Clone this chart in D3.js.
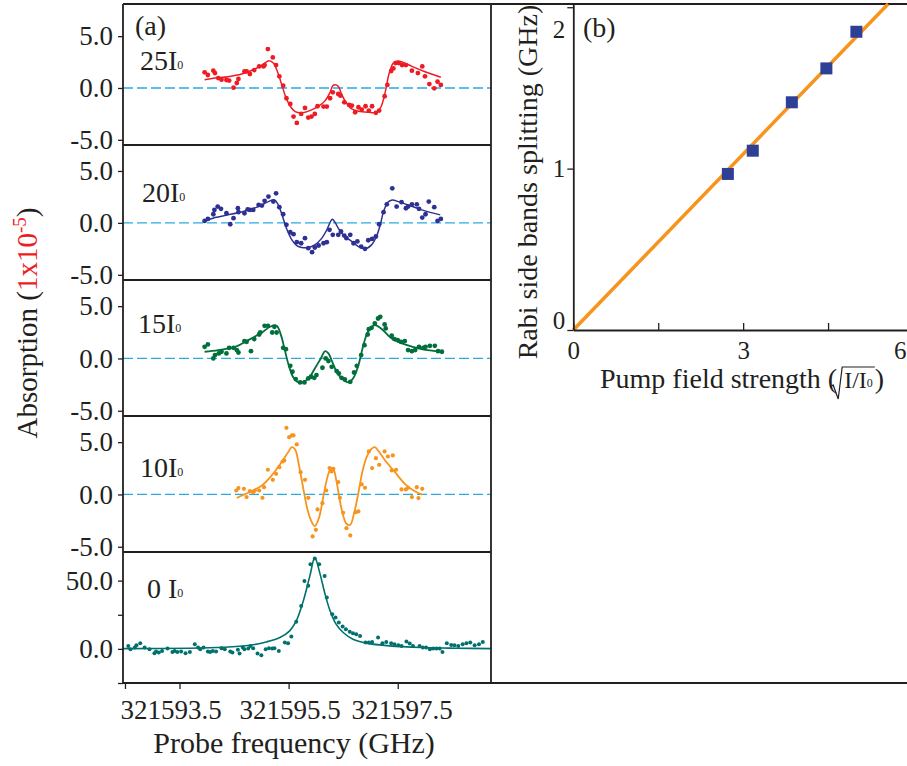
<!DOCTYPE html>
<html>
<head>
<meta charset="utf-8">
<script src="https://cdn.jsdelivr.net/npm/d3@7/dist/d3.min.js"></script>
<style>
  body { margin: 0; background: #fff; }
  svg { display: block; }
  text { font-family: "Liberation Serif", "Times New Roman", serif; fill: #231f20; }
</style>
</head>
<body>
<div id="wrapper"></div>
<script>
// probe frequency is stored as offset from 321590 GHz
const baseFreq = 321590;
const freqTicks = [2.5, 3.5, 5.5, 7.5];

// 25 I0
const freq25 = [3.96,4.02,4.12,4.15,4.21,4.27,4.36,4.41,4.49,4.55,4.58,4.69,4.73,4.79,4.87,4.96,5.04,5.06,5.12,5.21,5.27,5.33,5.40,5.46,5.53,5.59,5.65,5.73,5.80,5.86,5.92,5.98,6.03,6.14,6.20,6.26,6.31,6.41,6.45,6.52,6.61,6.66,6.72,6.78,6.84,6.91,6.97,7.03,7.10,7.16,7.26,7.31,7.38,7.42,7.46,7.52,7.58,7.65,7.76,7.87,7.95,8.00,8.08,8.17,8.23,8.29];
const abs25 = [1.51,1.25,1.67,1.44,0.96,0.80,0.77,0.71,0.03,0.48,0.87,1.60,1.60,1.35,1.73,2.08,2.08,2.21,3.75,2.95,2.21,1.12,0.22,-0.99,-1.54,-2.76,-3.37,-2.50,-1.92,-2.85,-2.76,-2.50,-1.76,-1.79,-1.79,-0.99,-0.42,-0.58,-0.74,-1.38,-1.63,-1.70,-2.34,-1.86,-2.08,-1.76,-2.18,-1.76,-2.40,-2.18,-0.80,0.29,1.63,1.89,2.40,2.40,2.21,2.21,1.67,1.44,2.08,1.12,0.38,-0.03,0.61,0.29];
const fitFreq25 = [3.96,4.15,4.39,4.64,4.88,5.04,5.14,5.22,5.30,5.37,5.45,5.53,5.62,5.74,5.89,6.05,6.17,6.26,6.31,6.35,6.41,6.47,6.55,6.64,6.78,6.96,7.11,7.19,7.27,7.34,7.42,7.50,7.60,7.76,8.00,8.29];
const fitAbs25 = [0.80,0.96,1.09,1.35,1.83,2.31,2.63,2.40,1.51,0.38,-0.90,-1.76,-2.28,-2.40,-2.18,-1.76,-1.22,-0.42,0.22,0.32,0.16,-0.58,-1.38,-1.96,-2.24,-2.34,-2.34,-1.86,-0.42,1.35,2.40,2.60,2.47,2.08,1.57,1.03];

// 20 I0
const freq20 = [3.96,4.02,4.12,4.14,4.20,4.26,4.36,4.43,4.49,4.57,4.58,4.69,4.75,4.79,4.85,4.95,5.01,5.06,5.13,5.22,5.27,5.33,5.40,5.46,5.53,5.59,5.65,5.73,5.80,5.86,5.93,5.98,6.05,6.14,6.20,6.25,6.31,6.41,6.46,6.52,6.56,6.63,6.69,6.76,6.83,6.90,6.96,7.03,7.10,7.16,7.24,7.30,7.40,7.48,7.57,7.65,7.69,7.76,7.85,7.89,7.95,8.01,8.07,8.17,8.23,8.29];
const abs20 = [0.19,0.38,0.83,1.25,1.57,1.35,0.93,-0.13,0.45,1.41,1.03,0.93,1.31,1.25,1.25,1.73,1.67,2.12,2.53,2.05,2.85,1.51,0.83,-0.19,-0.90,-1.09,-1.86,-1.96,-1.47,-2.44,-2.82,-2.37,-2.18,-1.96,-1.86,-0.67,-1.15,-1.15,-0.83,-1.22,-1.47,-1.15,-1.96,-1.79,-2.28,-2.50,-1.67,-1.54,-1.31,-0.13,1.03,1.79,3.33,1.57,1.99,1.41,1.57,1.79,1.79,1.35,0.51,0.83,2.05,1.51,0.19,0.38];
const fitFreq20 = [3.96,4.15,4.39,4.70,4.95,5.13,5.24,5.31,5.38,5.46,5.56,5.65,5.74,5.86,5.98,6.11,6.20,6.30,6.35,6.41,6.50,6.66,6.78,6.90,7.02,7.11,7.18,7.24,7.32,7.40,7.51,7.69,7.94,8.28];
const fitAbs20 = [0.13,0.51,0.77,1.15,1.57,2.05,2.21,1.73,0.77,-0.51,-1.63,-2.18,-2.37,-2.37,-2.12,-1.47,-0.67,0.35,0.06,-0.51,-1.15,-1.79,-2.28,-2.50,-2.12,-1.31,-0.19,1.09,1.99,2.21,2.05,1.73,1.25,0.77];

// 15 I0
const freq15 = [3.96,4.02,4.12,4.15,4.22,4.27,4.36,4.41,4.49,4.55,4.58,4.69,4.73,4.81,4.87,4.96,4.98,5.06,5.12,5.20,5.24,5.28,5.40,5.45,5.53,5.57,5.63,5.71,5.79,5.86,5.91,5.97,6.01,6.12,6.18,6.23,6.29,6.38,6.42,6.47,6.53,6.63,6.70,6.75,6.83,6.89,6.95,6.97,7.02,7.08,7.14,7.18,7.26,7.28,7.39,7.44,7.50,7.56,7.63,7.69,7.76,7.82,7.89,7.97,8.01,8.09,8.18,8.24,8.31];
const abs15 = [1.11,1.34,0.00,0.32,0.48,0.64,0.48,1.02,1.02,0.80,0.57,1.66,1.59,0.70,1.85,2.29,2.48,3.12,3.12,2.48,3.03,2.48,1.02,0.89,-0.70,-1.27,-1.97,-2.29,-2.29,-1.91,-1.75,-1.85,-1.59,-0.89,0.00,-0.25,-0.80,-1.21,-1.43,-1.85,-2.01,-2.23,-1.34,-0.70,0.32,1.27,2.29,2.80,2.93,3.34,3.82,3.98,3.25,2.87,2.17,1.85,1.75,1.59,1.66,0.80,0.70,0.80,1.11,1.02,1.11,1.21,1.21,0.70,0.64];
const fitFreq15 = [3.96,4.21,4.52,4.76,5.01,5.16,5.28,5.36,5.43,5.51,5.59,5.68,5.80,5.89,5.98,6.09,6.17,6.23,6.30,6.38,6.47,6.60,6.69,6.78,6.87,6.96,7.08,7.21,7.39,7.63,7.94,8.31];
const fitAbs15 = [0.64,0.80,1.11,1.75,2.48,3.03,3.12,2.23,0.80,-0.80,-1.85,-2.29,-2.17,-1.75,-0.96,0.00,0.70,0.48,-0.32,-1.27,-1.91,-2.29,-1.85,-0.64,1.27,2.61,3.18,2.80,1.91,1.34,0.89,0.64];

// 10 I0
const freq10 = [4.54,4.58,4.68,4.73,4.79,4.85,4.88,4.96,5.02,5.05,5.12,5.21,5.27,5.33,5.39,5.42,5.46,5.51,5.56,5.59,5.65,5.72,5.80,5.86,5.94,6.00,6.03,6.12,6.19,6.25,6.29,6.32,6.41,6.44,6.50,6.56,6.63,6.73,6.78,6.84,6.90,6.97,7.03,7.10,7.16,7.26,7.32,7.41,7.39,7.47,7.57,7.65,7.69,7.76,7.85,7.88,7.95];
const abs10 = [0.38,0.61,0.54,-0.25,0.32,0.22,0.38,0.38,-0.32,0.70,2.36,1.40,1.97,2.61,3.15,3.25,6.37,5.48,5.64,5.64,4.78,2.13,1.40,-0.32,-4.01,-3.38,-1.43,-0.83,0.38,2.52,2.20,2.45,1.18,-0.32,-1.75,-3.22,-3.92,-1.69,-1.62,0.96,0.64,4.11,2.52,3.47,2.83,4.11,3.63,3.73,2.29,2.36,0.48,0.48,0.64,-0.25,0.70,-0.35,0.54];
const fitFreq10 = [4.55,4.76,5.01,5.19,5.37,5.50,5.56,5.62,5.69,5.77,5.85,5.94,5.98,6.06,6.14,6.22,6.28,6.32,6.38,6.47,6.56,6.63,6.69,6.77,6.85,6.93,7.02,7.08,7.14,7.27,7.45,7.63,7.79,7.95];
const fitAbs10 = [-0.32,0.16,0.86,1.82,3.09,4.11,4.52,4.30,2.77,0.54,-1.53,-2.80,-3.03,-2.17,-0.10,1.82,2.52,2.45,1.18,-1.37,-2.80,-2.90,-2.01,-0.10,2.13,3.57,4.36,4.52,4.20,3.25,2.13,1.02,0.38,-0.03];

// 0 I0
const freq0 = [2.56,2.60,2.68,2.71,2.78,2.86,2.95,3.04,3.07,3.12,3.18,3.28,3.37,3.41,3.46,3.53,3.61,3.69,3.78,3.84,3.88,3.94,4.02,4.06,4.11,4.17,4.27,4.33,4.43,4.47,4.57,4.60,4.66,4.69,4.76,4.80,4.85,4.93,5.00,5.08,5.14,5.20,5.24,5.32,5.43,5.49,5.55,5.64,5.73,5.79,5.86,5.90,5.98,6.06,6.16,6.20,6.30,6.36,6.42,6.49,6.55,6.62,6.68,6.74,6.81,6.91,6.97,7.03,7.14,7.22,7.29,7.38,7.44,7.51,7.57,7.66,7.72,7.78,7.90,7.96,8.02,8.09,8.15,8.21,8.27,8.32,8.40,8.48,8.54,8.61,8.69,8.76,8.83,8.91,8.99,9.06];
const abs0 = [2.2,-0.2,1.0,2.7,4.2,1.0,-0.2,-3.2,-2.0,-2.7,-1.5,0.2,-2.2,-1.5,-2.2,-2.0,-3.2,-2.2,3.4,1.0,-0.2,1.0,-2.0,-2.2,-1.5,-2.0,0.5,-0.2,-2.0,-2.7,-0.7,-3.4,1.0,-0.2,0.2,2.2,0.5,-3.4,-4.6,-0.2,0.5,0.2,0.5,-1.5,4.6,4.2,9.0,19.8,31.5,49.8,46.2,62.0,66.2,62.0,53.5,37.6,25.4,23.0,19.3,16.4,14.4,12.5,11.5,10.7,9.5,4.6,4.6,5.1,8.3,4.2,5.1,4.2,3.4,2.7,2.2,5.4,3.9,2.2,2.2,1.0,1.0,-0.2,0.2,0.2,0.2,-2.2,4.2,2.9,2.7,2.2,3.4,4.2,4.6,2.7,3.4,5.1];
const fitFreq0 = [2.46,3.69,4.30,4.79,5.09,5.34,5.52,5.64,5.76,5.89,5.98,6.07,6.16,6.25,6.37,6.50,6.68,6.93,7.35,7.96,8.57,9.21];
const fitAbs0 = [0.2,0.5,1.2,2.7,5.1,8.3,13.2,20.5,33.9,53.5,66.9,55.9,41.3,29.1,18.1,12.0,7.1,4.2,2.2,1.0,0.5,0.2];

// panel (b)
const pumpField = [2.73, 3.17, 3.86, 4.47, 5.0];
const splitting = [0.967, 1.111, 1.411, 1.621, 1.848];
const fitPump = [0, 5.56];
const fitSplit = [0, 2.02];

const ink = "#231f20";
const width = 907;
const height = 766;
const left = 123;
const right = 491;

const svg = d3
  .select("#wrapper")
  .append("svg")
  .attr("width", width)
  .attr("height", height);

const xScale = d3.scaleLinear().domain([2.464, 9.21]).range([left, right]);

const panels = [
  { name: "25", x: freq25, y: abs25, fx: fitFreq25, fy: fitAbs25, color: "#ed1c24", top: 4, bottom: 145, domain: [-5.5, 8.1], ticks: [-5, 0, 5], r: 2.4, lw: 1.5, labelX: 140, labelY: 70, zero: true },
  { name: "20", x: freq20, y: abs20, fx: fitFreq20, fy: fitAbs20, color: "#2e3192", top: 145, bottom: 280, domain: [-5.5, 7.5], ticks: [-5, 0, 5], r: 2.4, lw: 1.5, labelX: 142, labelY: 202, zero: true },
  { name: "15", x: freq15, y: abs15, fx: fitFreq15, fy: fitAbs15, color: "#006f3c", top: 280, bottom: 416, domain: [-5.5, 7.5], ticks: [-5, 0, 5], r: 2.4, lw: 1.8, labelX: 138, labelY: 333, zero: true },
  { name: "10", x: freq10, y: abs10, fx: fitFreq10, fy: fitAbs10, color: "#f7941d", top: 416, bottom: 552, domain: [-5.5, 7.5], ticks: [-5, 0, 5], r: 2.1, lw: 1.8, labelX: 140, labelY: 477, zero: true },
  { name: "0 ", x: freq0, y: abs0, fx: fitFreq0, fy: fitAbs0, color: "#00716d", top: 552, bottom: 683, domain: [-25, 71], ticks: [-25, 0, 25, 50], r: 2.0, lw: 1.6, labelX: 147, labelY: 598, zero: false },
];

panels.forEach((p) => {
  const yScale = d3.scaleLinear().domain(p.domain).range([p.bottom, p.top]);
  const g = svg.append("g");

  if (p.zero) {
    g.append("line")
      .attr("x1", left)
      .attr("x2", right)
      .attr("y1", yScale(0))
      .attr("y2", yScale(0))
      .attr("stroke", "#29abe2")
      .attr("stroke-width", 1.3)
      .attr("stroke-dasharray", "10,4");
  }

  const yAxis = g
    .append("g")
    .attr("transform", `translate(${left},0)`)
    .call(
      d3
        .axisLeft(yScale)
        .tickValues(p.ticks)
        .tickSize(5)
        .tickPadding(5)
        .tickFormat((d) => (Math.abs(d) === 25 ? "" : d.toFixed(1)))
    );
  yAxis.select(".domain").remove();
  yAxis.selectAll("line").attr("stroke", ink).attr("stroke-width", 1.3);
  yAxis
    .selectAll("text")
    .attr("font-family", "Liberation Serif")
    .attr("font-size", 27)
    .attr("fill", ink);

  const line = d3
    .line()
    .x((d) => xScale(d[0]))
    .y((d) => yScale(d[1]))
    .curve(d3.curveCatmullRom);

  g.append("path")
    .datum(d3.zip(p.fx, p.fy))
    .attr("d", line)
    .attr("fill", "none")
    .attr("stroke", p.color)
    .attr("stroke-width", p.lw);

  g.selectAll("circle")
    .data(d3.zip(p.x, p.y))
    .join("circle")
    .attr("cx", (d) => xScale(d[0]))
    .attr("cy", (d) => yScale(d[1]))
    .attr("r", p.r)
    .attr("fill", p.color);

  const lab = g
    .append("text")
    .attr("x", p.labelX)
    .attr("y", p.labelY)
    .attr("font-size", 28)
    .style("white-space", "pre")
    .text(p.name + "I");
  lab.append("tspan").attr("font-size", 12).attr("dy", -1).text("0");
});

// frame of panel (a) and outer box
const frame = svg.append("g").attr("stroke", ink).attr("stroke-width", 1.8);
frame.append("line").attr("x1", left).attr("x2", left).attr("y1", 4).attr("y2", 683);
frame.append("line").attr("x1", right).attr("x2", right).attr("y1", 4).attr("y2", 683);
frame.append("line").attr("x1", left).attr("x2", width).attr("y1", 4).attr("y2", 4);
frame.append("line").attr("x1", left).attr("x2", width).attr("y1", 683).attr("y2", 683);
[145, 280, 416, 552].forEach((y) => {
  frame.append("line").attr("x1", left).attr("x2", right).attr("y1", y).attr("y2", y);
});

// bottom frequency axis
const xAxis = svg
  .append("g")
  .attr("transform", "translate(0,683)")
  .call(
    d3
      .axisBottom(xScale)
      .tickValues(freqTicks)
      .tickSize(6)
      .tickPadding(11)
      .tickFormat((d) => (d === 2.5 ? "" : (baseFreq + d).toFixed(1)))
  );
xAxis.select(".domain").remove();
xAxis.selectAll("line").attr("stroke", ink).attr("stroke-width", 1.3);
xAxis
  .selectAll("text")
  .attr("font-family", "Liberation Serif")
  .attr("font-size", 27)
  .attr("fill", ink)
  .attr("dx", (d) => (d === 3.5 ? -9 : d === 7.5 ? 4 : 1));

svg.append("text")
  .attr("x", 294)
  .attr("y", 753)
  .attr("text-anchor", "middle")
  .attr("font-size", 30)
  .text("Probe frequency (GHz)");

svg.append("text").attr("x", 135).attr("y", 35).attr("font-size", 28).text("(a)");

// y title of panel (a)
const yTitle = svg
  .append("text")
  .attr("transform", "translate(37,323) rotate(-90)")
  .attr("text-anchor", "middle")
  .attr("font-size", 29);
yTitle.append("tspan").text("Absorption (");
yTitle.append("tspan").style("fill", "#ed1c24").text("1x10");
yTitle.append("tspan").attr("font-size", 19).attr("dy", -11).style("fill", "#ed1c24").text("-5");
yTitle.append("tspan").attr("dy", 11).text(")");

// panel (b)
const xB = d3.scaleLinear().domain([0, 6]).range([573.3, 913]);
const yB = d3.scaleLinear().domain([0, 2.02]).range([330, 4]);

const gb = svg.append("g");

gb.append("path")
  .datum(d3.zip(fitPump, fitSplit))
  .attr("d", d3.line().x((d) => xB(d[0])).y((d) => yB(d[1])))
  .attr("stroke", "#f7941d")
  .attr("stroke-width", 3.5)
  .attr("fill", "none");

gb.selectAll("rect")
  .data(d3.zip(pumpField, splitting))
  .join("rect")
  .attr("x", (d) => xB(d[0]) - 6)
  .attr("y", (d) => yB(d[1]) - 6)
  .attr("width", 12)
  .attr("height", 12)
  .attr("fill", "#2e3f96");

const xAxisB = gb
  .append("g")
  .attr("transform", "translate(0,330)")
  .call(
    d3
      .axisBottom(xB)
      .tickValues([0, 1.5, 3, 4.5, 6])
      .tickSize(-7)
      .tickPadding(11)
      .tickSizeOuter(0)
      .tickFormat((d) => (d % 3 === 0 ? d3.format("d")(d) : ""))
  );
xAxisB.select(".domain").attr("stroke", ink).attr("stroke-width", 1.8);
xAxisB.selectAll("line").attr("stroke", ink).attr("stroke-width", 1.3);
xAxisB
  .selectAll("text")
  .attr("font-family", "Liberation Serif")
  .attr("font-size", 25)
  .attr("fill", ink)
  // the last label sits at the page edge, keep it inside
  .attr("text-anchor", (d) => (d === 6 ? "end" : "middle"))
  .attr("x", (d) => (d === 6 ? -7 : 0));

const yAxisB = gb
  .append("g")
  .attr("transform", "translate(573.3,0)")
  .call(
    d3
      .axisLeft(yB)
      .tickValues([0, 1, 2])
      .tickSize(6)
      .tickPadding(2)
      .tickSizeOuter(0)
      .tickFormat(d3.format("d"))
  );
yAxisB.select(".domain").attr("stroke", ink).attr("stroke-width", 1.8);
yAxisB.selectAll("line").attr("stroke", ink).attr("stroke-width", 1.3);
yAxisB
  .selectAll("text")
  .attr("font-family", "Liberation Serif")
  .attr("font-size", 25)
  .attr("fill", ink)
  .attr("dy", (d) => (d === 0 ? "-0.05em" : d === 2 ? "1.2em" : "0.32em"));

gb.append("text").attr("x", 583).attr("y", 37).attr("font-size", 28).text("(b)");

gb.append("text")
  .attr("transform", "translate(537,182) rotate(-90)")
  .attr("text-anchor", "middle")
  .attr("font-size", 28)
  .text("Rabi side bands splitting (GHz)");

// x title with square-root sign
const xt = gb.append("text").attr("x", 600).attr("y", 388).attr("font-size", 28).text("Pump field strength (");
const rx = 600 + xt.node().getComputedTextLength();
const inner = gb
  .append("text")
  .attr("x", rx + 7)
  .attr("y", 388)
  .attr("font-size", 24)
  .text("I/I");
inner.append("tspan").attr("font-size", 12).attr("dy", -1).text("0");
const innerW = inner.node().getComputedTextLength();
gb.append("path")
  .attr("d", `M${rx - 7},${387} L${rx - 4},${385} L${rx + 1},${399} L${rx + 5},${367} L${rx + 9 + innerW},${367}`)
  .attr("fill", "none")
  .attr("stroke", ink)
  .attr("stroke-width", 1.2);
gb.append("text")
  .attr("x", rx + 9 + innerW)
  .attr("y", 388)
  .attr("font-size", 28)
  .text(")");
</script>
</body>
</html>
